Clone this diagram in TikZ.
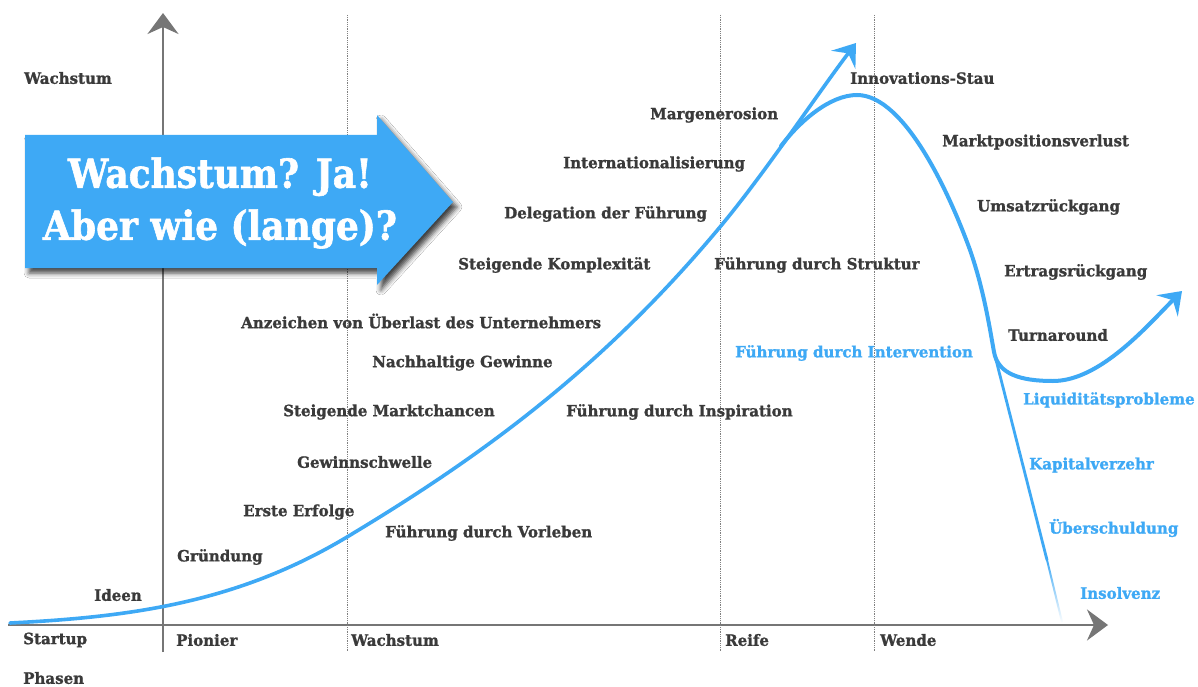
\documentclass[tikz,border=0pt]{standalone}
\usepackage{fontspec}
\newfontfamily\lblfont{DejaVu Serif Bold}[FakeStretch=0.97,FakeBold=1.2]
\newfontfamily\headfont{DejaVu Serif Bold}[FakeStretch=0.9,FakeBold=1.5]
\usetikzlibrary{arrows.meta,positioning,shadows.blur,fadings}
\definecolor{curveblue}{RGB}{62,169,245}
\definecolor{axisgray}{RGB}{118,118,118}
\definecolor{labelgray}{RGB}{58,58,58}

\begin{document}
\begin{tikzpicture}[x=1pt,y=-1pt,
    lbl/.style={anchor=west,inner sep=0pt,text=labelgray,font=\lblfont\fontsize{15.5}{18}\selectfont},
    lblblue/.style={lbl,text=curveblue},
    axis/.style={draw=axisgray,line width=2.4pt,-{Stealth[length=21pt,width=31pt,inset=7pt]}},
    phase/.style={draw=gray,densely dotted,line width=0.8pt},
    curve/.style={draw=curveblue,line width=4pt,line cap=round},
    tip/.style={-{Stealth[length=21pt,width=30pt,inset=8pt]}}
  ]
  \useasboundingbox[fill=white] (0,0) rectangle (1198,687);

  % axes and phase borders
  \coordinate (origin) at (8,625);
  \coordinate (xend) at (1108,625);
  \coordinate (ybot) at (163,652);
  \coordinate (ytop) at (163,13);
  \draw[axis] (origin) -- (xend);
  \draw[axis] (ybot) -- (ytop);
  \foreach \px in {347,720,874}
    \draw[phase] (\px,15) -- (\px,652);

  % growth curve
  \coordinate (start) at (10,623);
  \coordinate (g1) at (347,537);
  \coordinate (g2) at (720,227);
  \coordinate (growthtip) at (856,43);
  \draw[curve,line width=3.6pt,tip] (start)
    .. controls (130,617) and (237,603) .. (g1)
    .. controls (477,459) and (600,371) .. (g2)
    .. controls (765,173) and (813,100) .. (growthtip);

  % peak, decline and turnaround
  \coordinate (fork) at (781,146);
  \coordinate (peak) at (857,95);
  \coordinate (fall) at (970,250);
  \coordinate (split) at (994,352);
  \coordinate (low) at (1053,381);
  \coordinate (turntip) at (1182,291);
  \draw[curve,tip] (fork)
    .. controls (800,121) and (830,95) .. (peak)
    .. controls (905,95) and (950,195) .. (fall)
    .. controls (984,290) and (990,330) .. (split)
    .. controls (998,374) and (1020,381) .. (low)
    .. controls (1100,381) and (1147,326) .. (turntip);

  % road to insolvency
  \coordinate (fadestart) at (1047,560);
  \coordinate (floor) at (1062,622);
  \draw[draw=curveblue,line width=2.8pt] (split) -- (fadestart);
  \draw[draw=curveblue,line width=2pt,path fading=south] (fadestart) -- (floor);

  % motto arrow
  \path[fill=curveblue,blur shadow={shadow xshift=4pt,shadow yshift=-5pt,shadow blur radius=5pt,shadow opacity=75}]
    (25,135) -- (377,135) -- (377,115) -- (453,202) -- (377,285) -- (377,268) -- (25,268) -- cycle;
  \node[text=white,align=center,font=\headfont\fontsize{40}{52}\selectfont] (motto) at (220,203)
    {Wachstum? Ja!\\Aber wie (lange)?};

  % axis labels
  \node[lbl] (ylabel) at (24,78) {Wachstum};
  \node[lbl] (xlabel) at (23,678) {Phasen};
  \node[lbl] (startup) at (23,640) {Startup};
  \node[lbl] (pionier) at (176,640) {Pionier};
  \node[lbl] (wachstum) at (351,640) {Wachstum};
  \node[lbl] (reife) at (725,640) {Reife};
  \node[lbl] (wende) at (880,640) {Wende};

  % along the growth curve
  \node[lbl] (ideen) at (94,595) {Ideen};
  \node[lbl] (gruendung) at (177,557) {Gründung};
  \node[lbl] (erfolge) at (243,512) {Erste Erfolge};
  \node[lbl] (vorleben) at (385,533) {Führung durch Vorleben};
  \node[lbl] (schwelle) at (297,462) {Gewinnschwelle};
  \node[lbl] (chancen) at (283,412) {Steigende Marktchancen};
  \node[lbl] (inspiration) at (566,412) {Führung durch Inspiration};
  \node[lbl] (gewinne) at (372,363) {Nachhaltige Gewinne};
  \node[lbl] (ueberlast) at (241,321) {Anzeichen von Überlast des Unternehmers};
  \node[lbl] (komplex) at (458,265) {Steigende Komplexität};
  \node[lbl] (struktur) at (714,265) {Führung durch Struktur};
  \node[lbl] (delegation) at (504,214) {Delegation der Führung};
  \node[lbl] (internat) at (563,164) {Internationalisierung};
  \node[lbl] (marge) at (650,115) {Margenerosion};

  % after the peak
  \node[lbl] (stau) at (850,78) {Innovations-Stau};
  \node[lbl] (markt) at (942,142) {Marktpositionsverlust};
  \node[lbl] (umsatz) at (977,207) {Umsatzrückgang};
  \node[lbl] (ertrag) at (1004,272) {Ertragsrückgang};
  \node[lbl] (turn) at (1008,335) {Turnaround};
  \node[lblblue] (intervention) at (735,353) {Führung durch Intervention};
  \node[lblblue] (liquid) at (1023,400) {Liquiditätsprobleme};
  \node[lblblue] (kapital) at (1029,465) {Kapitalverzehr};
  \node[lblblue] (schuld) at (1049,528) {Überschuldung};
  \node[lblblue] (insolvenz) at (1080,593) {Insolvenz};
\end{tikzpicture}
\end{document}
